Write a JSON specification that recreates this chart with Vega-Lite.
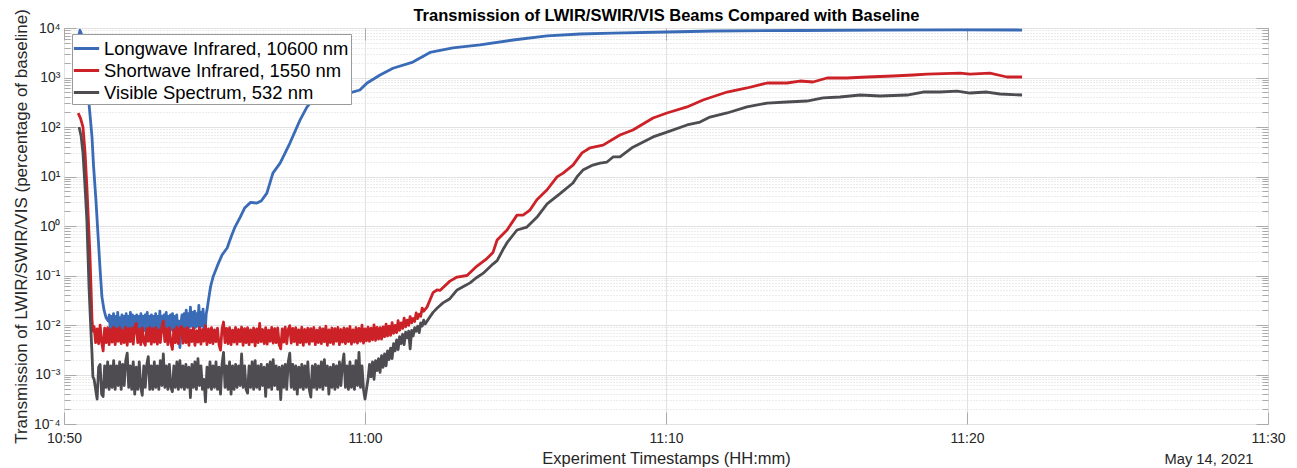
{
"$schema":"https://vega.github.io/schema/vega-lite/v6.json",
"width":1204,"height":396,
"autosize":{"type":"none"},
"padding":{"left":64,"top":28,"right":29,"bottom":44},
"background":"white",
"config":{"view":{"stroke":"#999999","strokeWidth":1},"font":"Liberation Sans"},
"data":{"values":[
{"s":"L","m":0.47,"v":6000},{"s":"L","m":0.53,"v":9000},{"s":"L","m":0.6,"v":7000},{"s":"L","m":0.7,"v":1400},{"s":"L","m":0.83,"v":300},{"s":"L","m":0.93,"v":63},{"s":"L","m":0.98,"v":17},{"s":"L","m":1.06,"v":3.4},{"s":"L","m":1.13,"v":0.66},{"s":"L","m":1.2,"v":0.13},{"s":"L","m":1.26,"v":0.037},{"s":"L","m":1.33,"v":0.02},{"s":"L","m":1.4,"v":0.014},
{"s":"L","m":1.47,"v":0.012},{"s":"L","m":1.505,"v":0.016},{"s":"L","m":1.54,"v":0.0077},{"s":"L","m":1.575,"v":0.015},{"s":"L","m":1.61,"v":0.008},{"s":"L","m":1.645,"v":0.017},{"s":"L","m":1.68,"v":0.0077},{"s":"L","m":1.715,"v":0.015},{"s":"L","m":1.75,"v":0.008},{"s":"L","m":1.785,"v":0.018},{"s":"L","m":1.82,"v":0.0073},{"s":"L","m":1.855,"v":0.014},{"s":"L","m":1.89,"v":0.008},{"s":"L","m":1.925,"v":0.016},{"s":"L","m":1.96,"v":0.0073},{"s":"L","m":1.995,"v":0.015},{"s":"L","m":2.03,"v":0.008},{"s":"L","m":2.065,"v":0.017},{"s":"L","m":2.1,"v":0.0077},{"s":"L","m":2.135,"v":0.015},{"s":"L","m":2.17,"v":0.008},{"s":"L","m":2.205,"v":0.018},{"s":"L","m":2.24,"v":0.0073},{"s":"L","m":2.275,"v":0.016},{"s":"L","m":2.31,"v":0.008},{"s":"L","m":2.345,"v":0.015},{"s":"L","m":2.38,"v":0.007},{"s":"L","m":2.415,"v":0.016},{"s":"L","m":2.45,"v":0.008},{"s":"L","m":2.485,"v":0.015},{"s":"L","m":2.52,"v":0.0073},{"s":"L","m":2.555,"v":0.017},{"s":"L","m":2.59,"v":0.008},{"s":"L","m":2.625,"v":0.015},{"s":"L","m":2.66,"v":0.0077},{"s":"L","m":2.695,"v":0.016},{"s":"L","m":2.73,"v":0.008},{"s":"L","m":2.765,"v":0.018},{"s":"L","m":2.8,"v":0.0073},{"s":"L","m":2.835,"v":0.015},{"s":"L","m":2.87,"v":0.008},{"s":"L","m":2.905,"v":0.016},{"s":"L","m":2.94,"v":0.0073},{"s":"L","m":2.975,"v":0.015},{"s":"L","m":3.01,"v":0.008},{"s":"L","m":3.045,"v":0.017},{"s":"L","m":3.08,"v":0.0077},{"s":"L","m":3.115,"v":0.015},{"s":"L","m":3.15,"v":0.008},{"s":"L","m":3.185,"v":0.019},{"s":"L","m":3.22,"v":0.0073},{"s":"L","m":3.255,"v":0.015},{"s":"L","m":3.29,"v":0.008},{"s":"L","m":3.325,"v":0.016},{"s":"L","m":3.36,"v":0.0073},{"s":"L","m":3.395,"v":0.018},{"s":"L","m":3.43,"v":0.008},{"s":"L","m":3.465,"v":0.015},{"s":"L","m":3.5,"v":0.0077},{"s":"L","m":3.535,"v":0.016},{"s":"L","m":3.57,"v":0.008},{"s":"L","m":3.605,"v":0.017},{"s":"L","m":3.64,"v":0.0073},{"s":"L","m":3.675,"v":0.015},{"s":"L","m":3.71,"v":0.008},{"s":"L","m":3.745,"v":0.016},{"s":"L","m":3.78,"v":0.0073},{"s":"L","m":3.815,"v":0.012},{"s":"L","m":3.85,"v":0.0035},{"s":"L","m":3.885,"v":0.011},{"s":"L","m":3.92,"v":0.016},{"s":"L","m":3.955,"v":0.008},{"s":"L","m":3.99,"v":0.017},{"s":"L","m":4.025,"v":0.009},{"s":"L","m":4.06,"v":0.02},{"s":"L","m":4.095,"v":0.008},{"s":"L","m":4.13,"v":0.017},{"s":"L","m":4.165,"v":0.009},{"s":"L","m":4.2,"v":0.023},{"s":"L","m":4.235,"v":0.0095},{"s":"L","m":4.27,"v":0.018},{"s":"L","m":4.305,"v":0.008},{"s":"L","m":4.34,"v":0.019},{"s":"L","m":4.375,"v":0.009},{"s":"L","m":4.41,"v":0.017},{"s":"L","m":4.445,"v":0.0095},{"s":"L","m":4.48,"v":0.025},{"s":"L","m":4.515,"v":0.009},{"s":"L","m":4.55,"v":0.018},{"s":"L","m":4.585,"v":0.0095},{"s":"L","m":4.62,"v":0.021},{"s":"L","m":4.655,"v":0.008},{"s":"L","m":4.69,"v":0.0077},{"s":"L","m":4.725,"v":0.017},{"s":"L","m":4.75,"v":0.02},
{"s":"L","m":4.8,"v":0.032},{"s":"L","m":4.87,"v":0.06},{"s":"L","m":4.95,"v":0.093},{"s":"L","m":5.1,"v":0.16},{"s":"L","m":5.25,"v":0.26},{"s":"L","m":5.42,"v":0.36},{"s":"L","m":5.55,"v":0.6},{"s":"L","m":5.68,"v":0.95},{"s":"L","m":5.85,"v":1.5},{"s":"L","m":6.0,"v":2.3},{"s":"L","m":6.2,"v":3.0},{"s":"L","m":6.41,"v":2.9},{"s":"L","m":6.55,"v":3.2},{"s":"L","m":6.74,"v":4.6},{"s":"L","m":6.94,"v":11.7},{"s":"L","m":7.18,"v":18.6},{"s":"L","m":7.51,"v":48},{"s":"L","m":7.84,"v":138},{"s":"L","m":8.07,"v":253},{"s":"L","m":8.27,"v":355},{"s":"L","m":8.5,"v":400},{"s":"L","m":8.84,"v":440},{"s":"L","m":9.17,"v":470},{"s":"L","m":9.5,"v":490},{"s":"L","m":9.83,"v":559},{"s":"L","m":10.07,"v":776},{"s":"L","m":10.5,"v":1120},{"s":"L","m":10.93,"v":1540},{"s":"L","m":11.59,"v":2050},{"s":"L","m":12.16,"v":3200},{"s":"L","m":12.92,"v":3950},{"s":"L","m":13.82,"v":4540},{"s":"L","m":14.92,"v":5720},{"s":"L","m":16.05,"v":6900},{"s":"L","m":17.14,"v":7570},{"s":"L","m":18.24,"v":7900},{"s":"L","m":20.03,"v":8300},{"s":"L","m":21.56,"v":8700},{"s":"L","m":24.45,"v":8900},{"s":"L","m":27.11,"v":9100},{"s":"L","m":29.77,"v":9200},{"s":"L","m":31.83,"v":9100},
{"s":"S","m":0.47,"v":190},{"s":"S","m":0.55,"v":150},{"s":"S","m":0.63,"v":100},{"s":"S","m":0.7,"v":30},{"s":"S","m":0.76,"v":6.2},{"s":"S","m":0.81,"v":1.3},{"s":"S","m":0.86,"v":0.28},{"s":"S","m":0.9,"v":0.05},{"s":"S","m":0.93,"v":0.013},{"s":"S","m":0.96,"v":0.0075},
{"s":"S","m":1.0,"v":0.0093},{"s":"S","m":1.05,"v":0.0044},{"s":"S","m":1.1,"v":0.0083},{"s":"S","m":1.15,"v":0.0042},{"s":"S","m":1.2,"v":0.0099},{"s":"S","m":1.25,"v":0.0046},{"s":"S","m":1.3,"v":0.003},{"s":"S","m":1.35,"v":0.0086},{"s":"S","m":1.4,"v":0.0044},{"s":"S","m":1.45,"v":0.0088},{"s":"S","m":1.5,"v":0.004},{"s":"S","m":1.55,"v":0.0081},{"s":"S","m":1.6,"v":0.0045},{"s":"S","m":1.65,"v":0.009},{"s":"S","m":1.7,"v":0.004},{"s":"S","m":1.75,"v":0.0083},{"s":"S","m":1.8,"v":0.0047},{"s":"S","m":1.85,"v":0.0088},{"s":"S","m":1.9,"v":0.0042},{"s":"S","m":1.95,"v":0.0079},{"s":"S","m":2.0,"v":0.0044},{"s":"S","m":2.05,"v":0.009},{"s":"S","m":2.1,"v":0.0039},{"s":"S","m":2.15,"v":0.0084},{"s":"S","m":2.2,"v":0.0046},{"s":"S","m":2.25,"v":0.0086},{"s":"S","m":2.3,"v":0.0041},{"s":"S","m":2.35,"v":0.0092},{"s":"S","m":2.4,"v":0.0108},{"s":"S","m":2.45,"v":0.0044},{"s":"S","m":2.5,"v":0.0081},{"s":"S","m":2.55,"v":0.004},{"s":"S","m":2.6,"v":0.0087},{"s":"S","m":2.65,"v":0.0046},{"s":"S","m":2.7,"v":0.0039},{"s":"S","m":2.75,"v":0.0084},{"s":"S","m":2.8,"v":0.0047},{"s":"S","m":2.85,"v":0.0089},{"s":"S","m":2.9,"v":0.0041},{"s":"S","m":2.95,"v":0.0083},{"s":"S","m":3.0,"v":0.0045},{"s":"S","m":3.05,"v":0.0088},{"s":"S","m":3.1,"v":0.0041},{"s":"S","m":3.15,"v":0.008},{"s":"S","m":3.2,"v":0.0044},{"s":"S","m":3.25,"v":0.009},{"s":"S","m":3.3,"v":0.012},{"s":"S","m":3.35,"v":0.0046},{"s":"S","m":3.4,"v":0.0084},{"s":"S","m":3.45,"v":0.004},{"s":"S","m":3.5,"v":0.0087},{"s":"S","m":3.55,"v":0.0045},{"s":"S","m":3.6,"v":0.0032},{"s":"S","m":3.65,"v":0.0081},{"s":"S","m":3.7,"v":0.0044},{"s":"S","m":3.75,"v":0.0091},{"s":"S","m":3.8,"v":0.0042},{"s":"S","m":3.85,"v":0.0083},{"s":"S","m":3.9,"v":0.0093},{"s":"S","m":3.95,"v":0.0043},{"s":"S","m":4.0,"v":0.0084},{"s":"S","m":4.05,"v":0.0044},{"s":"S","m":4.1,"v":0.0088},{"s":"S","m":4.15,"v":0.0039},{"s":"S","m":4.2,"v":0.008},{"s":"S","m":4.25,"v":0.0046},{"s":"S","m":4.3,"v":0.0086},{"s":"S","m":4.35,"v":0.0039},{"s":"S","m":4.4,"v":0.0077},{"s":"S","m":4.45,"v":0.0045},{"s":"S","m":4.5,"v":0.0088},{"s":"S","m":4.55,"v":0.0041},{"s":"S","m":4.6,"v":0.0081},{"s":"S","m":4.65,"v":0.0047},{"s":"S","m":4.7,"v":0.0097},{"s":"S","m":4.75,"v":0.004},{"s":"S","m":4.8,"v":0.0083},{"s":"S","m":4.85,"v":0.0044},{"s":"S","m":4.9,"v":0.0088},{"s":"S","m":4.95,"v":0.0042},{"s":"S","m":5.0,"v":0.008},{"s":"S","m":5.05,"v":0.0046},{"s":"S","m":5.1,"v":0.0086},{"s":"S","m":5.15,"v":0.004},{"s":"S","m":5.2,"v":0.0031},{"s":"S","m":5.25,"v":0.0083},{"s":"S","m":5.3,"v":0.0115},{"s":"S","m":5.35,"v":0.0044},{"s":"S","m":5.4,"v":0.0085},{"s":"S","m":5.45,"v":0.0042},{"s":"S","m":5.5,"v":0.0088},{"s":"S","m":5.55,"v":0.004},{"s":"S","m":5.6,"v":0.0079},{"s":"S","m":5.65,"v":0.0045},{"s":"S","m":5.7,"v":0.0089},{"s":"S","m":5.75,"v":0.0041},{"s":"S","m":5.8,"v":0.0081},{"s":"S","m":5.85,"v":0.0046},{"s":"S","m":5.9,"v":0.0091},{"s":"S","m":5.95,"v":0.0039},{"s":"S","m":6.0,"v":0.0084},{"s":"S","m":6.05,"v":0.0044},{"s":"S","m":6.1,"v":0.0088},{"s":"S","m":6.15,"v":0.004},{"s":"S","m":6.2,"v":0.008},{"s":"S","m":6.25,"v":0.0045},{"s":"S","m":6.3,"v":0.0087},{"s":"S","m":6.35,"v":0.0038},{"s":"S","m":6.4,"v":0.0083},{"s":"S","m":6.45,"v":0.0044},{"s":"S","m":6.5,"v":0.0108},{"s":"S","m":6.55,"v":0.0046},{"s":"S","m":6.6,"v":0.0081},{"s":"S","m":6.65,"v":0.0042},{"s":"S","m":6.7,"v":0.0088},{"s":"S","m":6.75,"v":0.0041},{"s":"S","m":6.8,"v":0.0079},{"s":"S","m":6.85,"v":0.0047},{"s":"S","m":6.9,"v":0.0089},{"s":"S","m":6.95,"v":0.0043},{"s":"S","m":7.0,"v":0.0084},{"s":"S","m":7.05,"v":0.0044},{"s":"S","m":7.1,"v":0.0087},{"s":"S","m":7.15,"v":0.004},{"s":"S","m":7.2,"v":0.0033},{"s":"S","m":7.25,"v":0.0083},{"s":"S","m":7.3,"v":0.0045},{"s":"S","m":7.35,"v":0.009},{"s":"S","m":7.4,"v":0.0042},{"s":"S","m":7.45,"v":0.0081},{"s":"S","m":7.5,"v":0.0097},{"s":"S","m":7.55,"v":0.0043},{"s":"S","m":7.6,"v":0.0085},{"s":"S","m":7.65,"v":0.0046},{"s":"S","m":7.7,"v":0.0088},{"s":"S","m":7.75,"v":0.004},{"s":"S","m":7.8,"v":0.008},{"s":"S","m":7.85,"v":0.0044},{"s":"S","m":7.9,"v":0.009},{"s":"S","m":7.95,"v":0.0039},{"s":"S","m":8.0,"v":0.0081},{"s":"S","m":8.05,"v":0.0045},{"s":"S","m":8.1,"v":0.0086},{"s":"S","m":8.15,"v":0.0041},{"s":"S","m":8.2,"v":0.0084},{"s":"S","m":8.25,"v":0.0047},{"s":"S","m":8.3,"v":0.0089},{"s":"S","m":8.35,"v":0.004},{"s":"S","m":8.4,"v":0.0079},{"s":"S","m":8.45,"v":0.0044},{"s":"S","m":8.5,"v":0.0088},{"s":"S","m":8.55,"v":0.0042},{"s":"S","m":8.6,"v":0.0083},{"s":"S","m":8.65,"v":0.0046},{"s":"S","m":8.7,"v":0.0095},{"s":"S","m":8.75,"v":0.0039},{"s":"S","m":8.8,"v":0.008},{"s":"S","m":8.85,"v":0.0044},{"s":"S","m":8.9,"v":0.0087},{"s":"S","m":8.95,"v":0.0041},{"s":"S","m":9.0,"v":0.0084},{"s":"S","m":9.05,"v":0.0047},{"s":"S","m":9.1,"v":0.0089},{"s":"S","m":9.15,"v":0.004},{"s":"S","m":9.2,"v":0.0081},{"s":"S","m":9.25,"v":0.0045},{"s":"S","m":9.3,"v":0.0087},{"s":"S","m":9.35,"v":0.0042},{"s":"S","m":9.4,"v":0.0084},{"s":"S","m":9.45,"v":0.0046},{"s":"S","m":9.5,"v":0.0094},{"s":"S","m":9.55,"v":0.0041},{"s":"S","m":9.6,"v":0.008},{"s":"S","m":9.65,"v":0.0045},{"s":"S","m":9.7,"v":0.0088},{"s":"S","m":9.75,"v":0.0043},{"s":"S","m":9.8,"v":0.0085},{"s":"S","m":9.85,"v":0.0047},{"s":"S","m":9.9,"v":0.0099},{"s":"S","m":9.95,"v":0.0043},{"s":"S","m":10.0,"v":0.0083},{"s":"S","m":10.05,"v":0.0048},{"s":"S","m":10.1,"v":0.009},{"s":"S","m":10.15,"v":0.0047},{"s":"S","m":10.2,"v":0.0086},{"s":"S","m":10.25,"v":0.005},{"s":"S","m":10.3,"v":0.0101},{"s":"S","m":10.35,"v":0.0049},{"s":"S","m":10.4,"v":0.0089},{"s":"S","m":10.45,"v":0.0052},
{"s":"S","m":10.5,"v":0.0088},{"s":"S","m":10.55,"v":0.0052},{"s":"S","m":10.6,"v":0.0092},{"s":"S","m":10.65,"v":0.0058},{"s":"S","m":10.7,"v":0.0104},{"s":"S","m":10.75,"v":0.006},{"s":"S","m":10.8,"v":0.0095},{"s":"S","m":10.85,"v":0.0062},{"s":"S","m":10.9,"v":0.0112},{"s":"S","m":10.95,"v":0.0068},{"s":"S","m":11.0,"v":0.0098},{"s":"S","m":11.05,"v":0.007},{"s":"S","m":11.1,"v":0.0122},{"s":"S","m":11.15,"v":0.0078},{"s":"S","m":11.2,"v":0.011},{"s":"S","m":11.25,"v":0.0085},{"s":"S","m":11.3,"v":0.0138},{"s":"S","m":11.35,"v":0.0092},{"s":"S","m":11.4,"v":0.0125},{"s":"S","m":11.45,"v":0.0098},{"s":"S","m":11.5,"v":0.0148},{"s":"S","m":11.55,"v":0.011},{"s":"S","m":11.6,"v":0.0135},{"s":"S","m":11.65,"v":0.0118},{"s":"S","m":11.7,"v":0.0175},{"s":"S","m":11.75,"v":0.0135},{"s":"S","m":11.8,"v":0.0165},{"s":"S","m":11.85,"v":0.015},{"s":"S","m":11.9,"v":0.022},{"s":"S","m":11.95,"v":0.019},
{"s":"S","m":12.06,"v":0.023},{"s":"S","m":12.26,"v":0.045},{"s":"S","m":12.39,"v":0.051},{"s":"S","m":12.49,"v":0.05},{"s":"S","m":12.82,"v":0.077},{"s":"S","m":13.06,"v":0.093},{"s":"S","m":13.39,"v":0.1},{"s":"S","m":13.72,"v":0.155},{"s":"S","m":14.05,"v":0.22},{"s":"S","m":14.25,"v":0.29},{"s":"S","m":14.39,"v":0.52},{"s":"S","m":14.72,"v":0.83},{"s":"S","m":15.05,"v":1.66},{"s":"S","m":15.25,"v":1.66},{"s":"S","m":15.48,"v":2.1},{"s":"S","m":15.71,"v":3.4},{"s":"S","m":16.05,"v":5.4},{"s":"S","m":16.38,"v":9.8},{"s":"S","m":16.58,"v":11.7},{"s":"S","m":16.91,"v":17},{"s":"S","m":17.21,"v":30},{"s":"S","m":17.48,"v":38},{"s":"S","m":17.91,"v":43},{"s":"S","m":18.47,"v":69},{"s":"S","m":18.9,"v":87},{"s":"S","m":19.57,"v":152},{"s":"S","m":20.03,"v":192},{"s":"S","m":20.7,"v":254},{"s":"S","m":21.23,"v":351},{"s":"S","m":22.03,"v":509},{"s":"S","m":22.69,"v":614},{"s":"S","m":23.36,"v":774},{"s":"S","m":24.02,"v":774},{"s":"S","m":24.45,"v":849},{"s":"S","m":24.88,"v":811},{"s":"S","m":25.35,"v":977},{"s":"S","m":26.01,"v":977},{"s":"S","m":26.68,"v":1024},{"s":"S","m":27.54,"v":1072},{"s":"S","m":28.21,"v":1123},{"s":"S","m":28.67,"v":1175},{"s":"S","m":29.77,"v":1230},{"s":"S","m":30.1,"v":1175},{"s":"S","m":30.76,"v":1230},{"s":"S","m":31.33,"v":1024},{"s":"S","m":31.83,"v":1024},
{"s":"V","m":0.5,"v":100},{"s":"V","m":0.57,"v":65},{"s":"V","m":0.63,"v":30},{"s":"V","m":0.7,"v":6},{"s":"V","m":0.76,"v":1.3},{"s":"V","m":0.83,"v":0.06},{"s":"V","m":0.88,"v":0.012},{"s":"V","m":0.93,"v":0.0027},{"s":"V","m":0.96,"v":0.0009},
{"s":"V","m":1.0,"v":0.0008},{"s":"V","m":1.05,"v":0.0005},{"s":"V","m":1.1,"v":0.00032},{"s":"V","m":1.15,"v":0.0014},{"s":"V","m":1.2,"v":0.0016},{"s":"V","m":1.25,"v":0.0004},{"s":"V","m":1.3,"v":0.00036},{"s":"V","m":1.35,"v":0.0015},{"s":"V","m":1.4,"v":0.00055},{"s":"V","m":1.45,"v":0.0018},{"s":"V","m":1.5,"v":0.0005},{"s":"V","m":1.55,"v":0.0015},{"s":"V","m":1.6,"v":0.00055},{"s":"V","m":1.65,"v":0.0019},{"s":"V","m":1.7,"v":0.0005},{"s":"V","m":1.75,"v":0.0015},{"s":"V","m":1.8,"v":0.0006},{"s":"V","m":1.85,"v":0.0018},{"s":"V","m":1.9,"v":0.0005},{"s":"V","m":1.95,"v":0.0016},{"s":"V","m":2.0,"v":0.0006},{"s":"V","m":2.05,"v":0.0019},{"s":"V","m":2.1,"v":0.0027},{"s":"V","m":2.15,"v":0.00055},{"s":"V","m":2.2,"v":0.0015},{"s":"V","m":2.25,"v":0.0005},{"s":"V","m":2.3,"v":0.0018},{"s":"V","m":2.35,"v":0.0004},{"s":"V","m":2.4,"v":0.0014},{"s":"V","m":2.45,"v":0.0005},{"s":"V","m":2.5,"v":0.0018},{"s":"V","m":2.55,"v":0.00055},{"s":"V","m":2.6,"v":0.00038},{"s":"V","m":2.65,"v":0.0015},{"s":"V","m":2.7,"v":0.00055},{"s":"V","m":2.75,"v":0.0016},{"s":"V","m":2.8,"v":0.0023},{"s":"V","m":2.85,"v":0.0005},{"s":"V","m":2.9,"v":0.0015},{"s":"V","m":2.95,"v":0.0005},{"s":"V","m":3.0,"v":0.0018},{"s":"V","m":3.05,"v":0.00055},{"s":"V","m":3.1,"v":0.0015},{"s":"V","m":3.15,"v":0.0005},{"s":"V","m":3.2,"v":0.0019},{"s":"V","m":3.25,"v":0.0006},{"s":"V","m":3.3,"v":0.0026},{"s":"V","m":3.35,"v":0.00055},{"s":"V","m":3.4,"v":0.0015},{"s":"V","m":3.45,"v":0.0005},{"s":"V","m":3.5,"v":0.0016},{"s":"V","m":3.55,"v":0.00055},{"s":"V","m":3.6,"v":0.00045},{"s":"V","m":3.65,"v":0.0015},{"s":"V","m":3.7,"v":0.00055},{"s":"V","m":3.75,"v":0.0018},{"s":"V","m":3.8,"v":0.0005},{"s":"V","m":3.85,"v":0.0019},{"s":"V","m":3.9,"v":0.00055},{"s":"V","m":3.95,"v":0.0015},{"s":"V","m":4.0,"v":0.0005},{"s":"V","m":4.05,"v":0.0016},{"s":"V","m":4.1,"v":0.00055},{"s":"V","m":4.15,"v":0.0014},{"s":"V","m":4.2,"v":0.00034},{"s":"V","m":4.25,"v":0.0016},{"s":"V","m":4.3,"v":0.00055},{"s":"V","m":4.35,"v":0.0018},{"s":"V","m":4.4,"v":0.0005},{"s":"V","m":4.45,"v":0.0021},{"s":"V","m":4.5,"v":0.0006},{"s":"V","m":4.55,"v":0.0015},{"s":"V","m":4.6,"v":0.0005},{"s":"V","m":4.65,"v":0.0008},{"s":"V","m":4.7,"v":0.00028},{"s":"V","m":4.75,"v":0.0014},{"s":"V","m":4.8,"v":0.00055},{"s":"V","m":4.85,"v":0.0018},{"s":"V","m":4.9,"v":0.0005},{"s":"V","m":4.95,"v":0.0015},{"s":"V","m":5.0,"v":0.00055},{"s":"V","m":5.05,"v":0.0018},{"s":"V","m":5.1,"v":0.0005},{"s":"V","m":5.15,"v":0.0014},{"s":"V","m":5.2,"v":0.0004},{"s":"V","m":5.25,"v":0.0016},{"s":"V","m":5.3,"v":0.0028},{"s":"V","m":5.35,"v":0.00055},{"s":"V","m":5.4,"v":0.0015},{"s":"V","m":5.45,"v":0.0005},{"s":"V","m":5.5,"v":0.0018},{"s":"V","m":5.55,"v":0.0004},{"s":"V","m":5.6,"v":0.0015},{"s":"V","m":5.65,"v":0.0005},{"s":"V","m":5.7,"v":0.0016},{"s":"V","m":5.75,"v":0.00055},{"s":"V","m":5.8,"v":0.0015},{"s":"V","m":5.85,"v":0.0006},{"s":"V","m":5.9,"v":0.0026},{"s":"V","m":5.95,"v":0.00055},{"s":"V","m":6.0,"v":0.0015},{"s":"V","m":6.05,"v":0.0005},{"s":"V","m":6.1,"v":0.00042},{"s":"V","m":6.15,"v":0.0015},{"s":"V","m":6.2,"v":0.00055},{"s":"V","m":6.25,"v":0.0018},{"s":"V","m":6.3,"v":0.0005},{"s":"V","m":6.35,"v":0.0019},{"s":"V","m":6.4,"v":0.00055},{"s":"V","m":6.45,"v":0.0015},{"s":"V","m":6.5,"v":0.0005},{"s":"V","m":6.55,"v":0.0016},{"s":"V","m":6.6,"v":0.0006},{"s":"V","m":6.65,"v":0.0014},{"s":"V","m":6.7,"v":0.00036},{"s":"V","m":6.75,"v":0.0016},{"s":"V","m":6.8,"v":0.00055},{"s":"V","m":6.85,"v":0.0018},{"s":"V","m":6.9,"v":0.0005},{"s":"V","m":6.95,"v":0.002},{"s":"V","m":7.0,"v":0.0006},{"s":"V","m":7.05,"v":0.0015},{"s":"V","m":7.1,"v":0.0005},{"s":"V","m":7.15,"v":0.0014},{"s":"V","m":7.2,"v":0.00031},{"s":"V","m":7.25,"v":0.0015},{"s":"V","m":7.3,"v":0.00055},{"s":"V","m":7.35,"v":0.0016},{"s":"V","m":7.4,"v":0.0005},{"s":"V","m":7.45,"v":0.0018},{"s":"V","m":7.5,"v":0.0027},{"s":"V","m":7.55,"v":0.00055},{"s":"V","m":7.6,"v":0.0016},{"s":"V","m":7.65,"v":0.0005},{"s":"V","m":7.7,"v":0.0015},{"s":"V","m":7.75,"v":0.0004},{"s":"V","m":7.8,"v":0.0014},{"s":"V","m":7.85,"v":0.00055},{"s":"V","m":7.9,"v":0.0016},{"s":"V","m":7.95,"v":0.0005},{"s":"V","m":8.0,"v":0.0015},{"s":"V","m":8.05,"v":0.00055},{"s":"V","m":8.1,"v":0.0018},{"s":"V","m":8.15,"v":0.0005},{"s":"V","m":8.2,"v":0.00035},{"s":"V","m":8.25,"v":0.0015},{"s":"V","m":8.3,"v":0.00055},{"s":"V","m":8.35,"v":0.0016},{"s":"V","m":8.4,"v":0.0005},{"s":"V","m":8.45,"v":0.0015},{"s":"V","m":8.5,"v":0.00055},{"s":"V","m":8.55,"v":0.0018},{"s":"V","m":8.6,"v":0.0005},{"s":"V","m":8.65,"v":0.002},{"s":"V","m":8.7,"v":0.0006},{"s":"V","m":8.75,"v":0.0015},{"s":"V","m":8.8,"v":0.0004},{"s":"V","m":8.85,"v":0.0014},{"s":"V","m":8.9,"v":0.00055},{"s":"V","m":8.95,"v":0.0016},{"s":"V","m":9.0,"v":0.0005},{"s":"V","m":9.05,"v":0.0015},{"s":"V","m":9.1,"v":0.00055},{"s":"V","m":9.15,"v":0.0018},{"s":"V","m":9.2,"v":0.0006},{"s":"V","m":9.25,"v":0.0016},{"s":"V","m":9.3,"v":0.0026},{"s":"V","m":9.35,"v":0.00055},{"s":"V","m":9.4,"v":0.0015},{"s":"V","m":9.45,"v":0.0005},{"s":"V","m":9.5,"v":0.0018},{"s":"V","m":9.55,"v":0.00055},{"s":"V","m":9.6,"v":0.0015},{"s":"V","m":9.65,"v":0.0005},{"s":"V","m":9.7,"v":0.0019},{"s":"V","m":9.75,"v":0.0006},{"s":"V","m":9.8,"v":0.0028},{"s":"V","m":9.85,"v":0.00055},{"s":"V","m":9.9,"v":0.0015},{"s":"V","m":9.95,"v":0.0005},{"s":"V","m":10.0,"v":0.00032},
{"s":"V","m":10.1,"v":0.0008},{"s":"V","m":10.15,"v":0.0016},{"s":"V","m":10.2,"v":0.0009},{"s":"V","m":10.25,"v":0.0018},{"s":"V","m":10.3,"v":0.0008},{"s":"V","m":10.35,"v":0.0019},{"s":"V","m":10.4,"v":0.0012},{"s":"V","m":10.45,"v":0.0021},{"s":"V","m":10.5,"v":0.0011},{"s":"V","m":10.55,"v":0.0024},{"s":"V","m":10.6,"v":0.0014},{"s":"V","m":10.65,"v":0.0026},{"s":"V","m":10.7,"v":0.0015},{"s":"V","m":10.75,"v":0.003},{"s":"V","m":10.8,"v":0.002},{"s":"V","m":10.85,"v":0.0034},{"s":"V","m":10.9,"v":0.0021},{"s":"V","m":10.95,"v":0.0042},{"s":"V","m":11.0,"v":0.003},{"s":"V","m":11.05,"v":0.005},{"s":"V","m":11.1,"v":0.0032},{"s":"V","m":11.15,"v":0.0058},{"s":"V","m":11.2,"v":0.0042},{"s":"V","m":11.25,"v":0.0065},{"s":"V","m":11.3,"v":0.004},{"s":"V","m":11.35,"v":0.0072},{"s":"V","m":11.4,"v":0.0055},{"s":"V","m":11.45,"v":0.0075},{"s":"V","m":11.5,"v":0.0033},{"s":"V","m":11.55,"v":0.0078},{"s":"V","m":11.6,"v":0.006},{"s":"V","m":11.65,"v":0.0088},{"s":"V","m":11.7,"v":0.0075},{"s":"V","m":11.75,"v":0.0095},{"s":"V","m":11.8,"v":0.007},{"s":"V","m":11.85,"v":0.011},{"s":"V","m":11.9,"v":0.0095},{"s":"V","m":11.95,"v":0.0125},{"s":"V","m":12.0,"v":0.0105},{"s":"V","m":12.1,"v":0.013},{"s":"V","m":12.26,"v":0.018},{"s":"V","m":12.4,"v":0.022},{"s":"V","m":12.59,"v":0.028},{"s":"V","m":12.82,"v":0.034},{"s":"V","m":13.06,"v":0.051},{"s":"V","m":13.27,"v":0.06},{"s":"V","m":13.49,"v":0.071},{"s":"V","m":13.7,"v":0.09},{"s":"V","m":13.92,"v":0.11},{"s":"V","m":14.25,"v":0.17},{"s":"V","m":14.39,"v":0.2},{"s":"V","m":14.58,"v":0.33},{"s":"V","m":14.72,"v":0.46},{"s":"V","m":15.05,"v":0.83},{"s":"V","m":15.38,"v":0.95},{"s":"V","m":15.71,"v":1.5},{"s":"V","m":16.05,"v":2.8},{"s":"V","m":16.48,"v":4.5},{"s":"V","m":16.91,"v":7.4},{"s":"V","m":17.04,"v":9.8},{"s":"V","m":17.24,"v":13.5},{"s":"V","m":17.57,"v":17},{"s":"V","m":17.81,"v":18.6},{"s":"V","m":18.04,"v":19.6},{"s":"V","m":18.24,"v":24.8},{"s":"V","m":18.47,"v":25},{"s":"V","m":18.9,"v":39},{"s":"V","m":19.57,"v":63},{"s":"V","m":20.03,"v":79},{"s":"V","m":20.7,"v":110},{"s":"V","m":21.13,"v":126},{"s":"V","m":21.46,"v":159},{"s":"V","m":22.03,"v":192},{"s":"V","m":22.69,"v":254},{"s":"V","m":23.36,"v":305},{"s":"V","m":24.02,"v":320},{"s":"V","m":24.68,"v":335},{"s":"V","m":25.22,"v":386},{"s":"V","m":25.78,"v":404},{"s":"V","m":26.45,"v":443},{"s":"V","m":27.11,"v":423},{"s":"V","m":28.01,"v":443},{"s":"V","m":28.54,"v":509},{"s":"V","m":29.1,"v":509},{"s":"V","m":29.67,"v":533},{"s":"V","m":30.1,"v":486},{"s":"V","m":30.66,"v":509},{"s":"V","m":31.1,"v":464},{"s":"V","m":31.83,"v":443}
]},
"encoding":{
 "color":{"field":"s","type":"nominal",
  "scale":{"domain":["L","S","V"],"range":["#3a6bb7","#cc2127","#4e4c50"]},
  "legend":{"orient":"none","legendX":8,"legendY":6,"title":null,"direction":"vertical","fillColor":"white","strokeColor":"#9a9a9a","padding":2,"symbolType":"M-1.15,0H1.15","symbolStrokeWidth":3,"symbolSize":484,"labelFontSize":18.4,"labelFont":"Liberation Sans","labelColor":"#000000","labelOffset":5,"labelLimit":400,"rowPadding":0,
   "labelExpr":"datum.label == 'L' ? 'Longwave Infrared, 10600 nm' : datum.label == 'S' ? 'Shortwave Infrared, 1550 nm' : 'Visible Spectrum, 532 nm'"}}
},
"layer":[
 {"transform":[{"filter":"datum.s == 'L'"}],
  "mark":{"type":"line","strokeWidth":2.8,"strokeJoin":"round","clip":true},
  "encoding":{
   "x":{"field":"m","type":"quantitative","scale":{"domain":[0,40],"nice":false,"zero":false},
    "axis":{"orient":"bottom","values":[0,10,20,30,40],"labelExpr":"['10:50','11:00','11:10','11:20','11:30'][round(datum.value/10)]","labelFontSize":14,"labelColor":"#262626","labelFont":"Liberation Sans","labelFlush":false,"labelOverlap":false,"labelPadding":19,"tickSize":-12,"tickColor":"#aaaaaa","domain":false,"grid":true,"gridColor":"#e2e2e2","title":"Experiment Timestamps (HH:mm)","titleFontSize":16.5,"titleFontWeight":"normal","titleColor":"#262626","titleFont":"Liberation Sans","titleY":26,"titleBaseline":"top"}},
   "y":{"field":"v","type":"quantitative","scale":{"type":"log","domain":[0.0001,10000],"nice":false},
    "axis":{"orient":"left","values":[0.0001,0.0002,0.0003,0.0004,0.0005,0.0006,0.0007,0.0008,0.0009,0.001,0.002,0.003,0.004,0.005,0.006,0.007,0.008,0.009,0.01,0.02,0.03,0.04,0.05,0.06,0.07,0.08,0.09,0.1,0.2,0.3,0.4,0.5,0.6,0.7,0.8,0.9,1,2,3,4,5,6,7,8,9,10,20,30,40,50,60,70,80,90,100,200,300,400,500,600,700,800,900,1000,2000,3000,4000,5000,6000,7000,8000,9000,10000],
     "labelExpr":"abs(log(datum.value)/LN10 - round(log(datum.value)/LN10)) < 0.001 ? ['10⁻⁴','10⁻³','10⁻²','10⁻¹','10⁰','10¹','10²','10³','10⁴'][round(log(datum.value)/LN10)+4] : ''",
     "labelOverlap":false,"labelFontSize":14,"labelColor":"#262626","labelFont":"Liberation Sans","labelPadding":16,
     "tickSize":{"condition":{"test":"abs(log(datum.value)/LN10 - round(log(datum.value)/LN10)) < 0.001","value":-12},"value":-6},
     "tickColor":"#aaaaaa","domain":false,"grid":true,
     "gridColor":{"condition":{"test":"abs(log(datum.value)/LN10 - round(log(datum.value)/LN10)) < 0.001","value":"#e2e2e2"},"value":"#d8d8d8"},
     "gridDash":{"condition":{"test":"abs(log(datum.value)/LN10 - round(log(datum.value)/LN10)) < 0.001","value":[]},"value":[1,2]},
     "title":"Transmission of LWIR/SWIR/VIS (percentage of baseline)","titleFontSize":17,"titleFontWeight":"normal","titleColor":"#262626","titleFont":"Liberation Sans","titlePadding":3}}
  }},
 {"transform":[{"filter":"datum.s == 'S'"}],
  "mark":{"type":"line","strokeWidth":2.8,"strokeJoin":"round","clip":true},
  "encoding":{
   "x":{"field":"m","type":"quantitative","scale":{"domain":[0,40],"nice":false,"zero":false},
    "axis":{"orient":"top","values":[0,10,20,30,40],"labels":false,"ticks":true,"tickSize":-12,"tickColor":"#aaaaaa","grid":false,"domain":false,"title":"Transmission of LWIR/SWIR/VIS Beams Compared with Baseline","titleFontSize":16.5,"titleFontWeight":"bold","titleColor":"#000000","titleFont":"Liberation Sans","titleX":602,"titleY":-8,"titleAlign":"center","titleBaseline":"alphabetic"}},
   "y":{"field":"v","type":"quantitative","scale":{"type":"log","domain":[0.0001,10000],"nice":false},"axis":null}
  }},
 {"transform":[{"filter":"datum.s == 'V'"}],
  "mark":{"type":"line","strokeWidth":2.8,"strokeJoin":"round","clip":true},
  "encoding":{
   "x":{"field":"m","type":"quantitative","scale":{"domain":[0,40],"nice":false,"zero":false},
    "axis":{"orient":"bottom","labels":false,"ticks":false,"grid":false,"domain":false,"title":"May 14, 2021","titleFontSize":14.7,"titleFontWeight":"normal","titleColor":"#262626","titleFont":"Liberation Sans","titleX":1189,"titleY":27,"titleAlign":"right","titleBaseline":"top"}},
   "y":{"field":"v","type":"quantitative","scale":{"type":"log","domain":[0.0001,10000],"nice":false},
    "axis":{"orient":"right","values":[0.0001,0.0002,0.0003,0.0004,0.0005,0.0006,0.0007,0.0008,0.0009,0.001,0.002,0.003,0.004,0.005,0.006,0.007,0.008,0.009,0.01,0.02,0.03,0.04,0.05,0.06,0.07,0.08,0.09,0.1,0.2,0.3,0.4,0.5,0.6,0.7,0.8,0.9,1,2,3,4,5,6,7,8,9,10,20,30,40,50,60,70,80,90,100,200,300,400,500,600,700,800,900,1000,2000,3000,4000,5000,6000,7000,8000,9000,10000],
     "labels":false,"grid":false,"domain":false,"title":null,"tickColor":"#aaaaaa",
     "tickSize":{"condition":{"test":"abs(log(datum.value)/LN10 - round(log(datum.value)/LN10)) < 0.001","value":-12},"value":-6}}}
  }}
],
"resolve":{"axis":{"x":"independent","y":"independent"}}
}
